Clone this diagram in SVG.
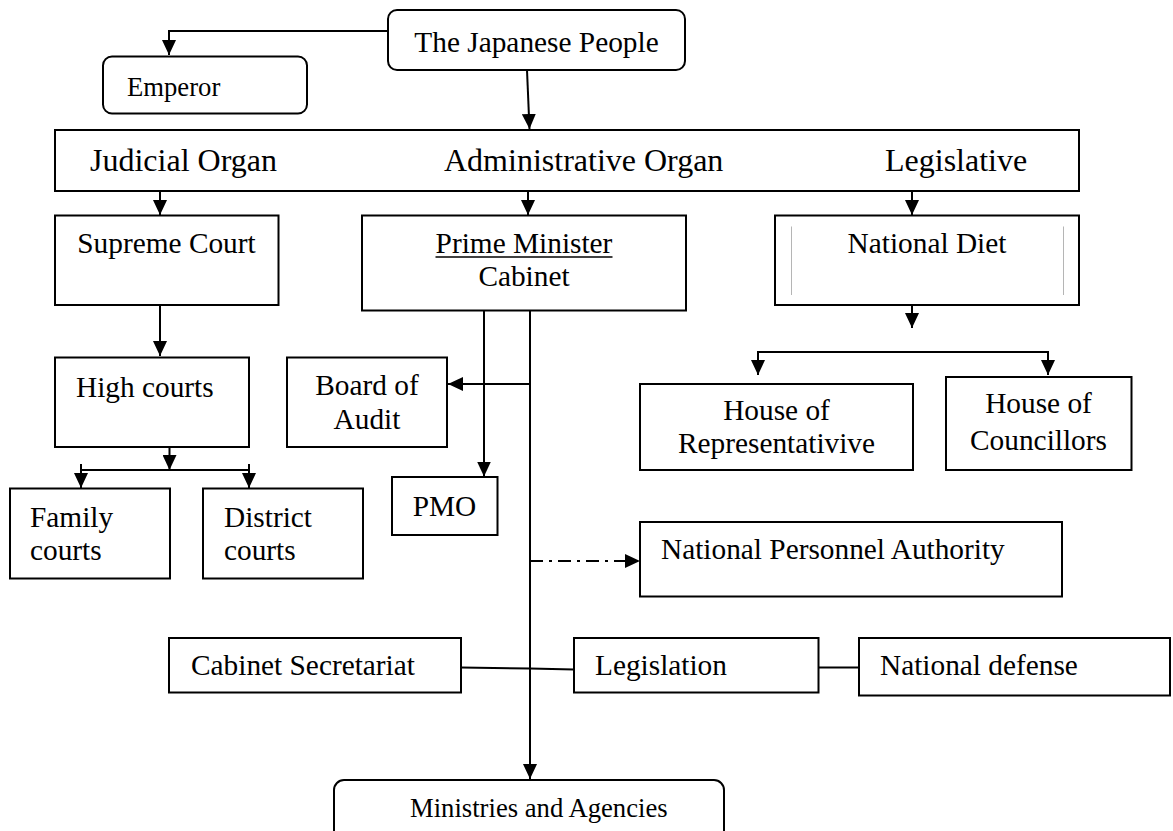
<svg xmlns="http://www.w3.org/2000/svg" width="1173" height="831" viewBox="0 0 1173 831">
<style>
.box{fill:#fff;stroke:#000;stroke-width:2}
.t{font-family:"Liberation Serif","Times New Roman",serif;font-size:29.33px;fill:#000}
.tc{text-anchor:middle}
.big{font-size:32px}
.sm{font-size:26.67px}
.ln{fill:none;stroke:#000;stroke-width:2}
.arr{marker-end:url(#ah)}
</style>
<defs>
<marker id="ah" markerUnits="userSpaceOnUse" markerWidth="16" markerHeight="14" refX="15" refY="7" orient="auto">
<path d="M0,0 L15,7 L0,14 z" fill="#000"/>
</marker>
</defs>
<rect width="1173" height="831" fill="#fff"/>
<g id="connectors">
<polyline class="ln arr" points="388,31 169,31 169,55"/>
<line class="ln arr" x1="527" y1="70" x2="529.5" y2="129"/>
<line class="ln arr" x1="160" y1="191" x2="160" y2="215"/>
<line class="ln arr" x1="528" y1="191" x2="528" y2="215"/>
<line class="ln arr" x1="912" y1="191" x2="912" y2="215"/>
<line class="ln arr" x1="160" y1="305" x2="160" y2="356"/>
<line class="ln arr" x1="169.5" y1="447" x2="169.5" y2="470"/>
<line class="ln" x1="81" y1="470" x2="249" y2="470"/>
<line class="ln arr" x1="81" y1="464" x2="81" y2="488"/>
<line class="ln arr" x1="249" y1="464" x2="249" y2="488"/>
<line class="ln arr" x1="912" y1="305" x2="912" y2="328"/>
<polyline class="ln arr" points="758,352 1048,352 1048,375"/>
<line class="ln arr" x1="758" y1="351" x2="758" y2="375"/>
<line class="ln arr" x1="484" y1="311" x2="484" y2="476.5"/>
<line class="ln arr" x1="530" y1="311" x2="530" y2="779"/>
<line class="ln arr" x1="530" y1="384" x2="448" y2="384"/>
<line class="ln arr" x1="530" y1="561" x2="640" y2="561" stroke-dasharray="13 6 3 6"/>
<polyline class="ln" points="461,667.5 530,668.5 574,669.5"/>
<line class="ln" x1="818.5" y1="667.5" x2="859" y2="667.5"/>
</g>
<g id="japanese-people">
<rect class="box" x="388" y="10" width="297" height="60" rx="9"/>
<text class="t tc" x="536.5" y="52">The Japanese People</text>
</g>
<g id="emperor">
<rect class="box" x="103" y="56.5" width="204" height="57" rx="9"/>
<text class="t sm" x="127" y="96">Emperor</text>
</g>
<g id="organs-bar">
<rect class="box" x="55" y="130" width="1024" height="61"/>
<text class="t big" x="90" y="170.5">Judicial Organ</text>
<text class="t big" x="444" y="170.5">Administrative Organ</text>
<text class="t big" x="885" y="170.5">Legislative</text>
</g>
<g id="supreme-court">
<rect class="box" x="55" y="215.5" width="223.5" height="89.5"/>
<text class="t tc" x="166.5" y="253">Supreme Court</text>
</g>
<g id="prime-minister">
<rect class="box" x="362" y="215.5" width="324" height="95"/>
<text class="t tc" x="524" y="252.5">Prime Minister</text>
<line x1="435.5" y1="257" x2="612.5" y2="257" stroke="#000" stroke-width="1.5"/>
<text class="t tc" x="524" y="286">Cabinet</text>
</g>
<g id="national-diet">
<rect class="box" x="775" y="215.5" width="304" height="89.5"/>
<line x1="791.5" y1="226.5" x2="791.5" y2="295" stroke="#b5b5b5" stroke-width="1"/>
<line x1="1063.5" y1="226.5" x2="1063.5" y2="295" stroke="#b5b5b5" stroke-width="1"/>
<text class="t tc" x="927" y="253">National Diet</text>
</g>
<g id="high-courts">
<rect class="box" x="55" y="357.5" width="194" height="89.5"/>
<text class="t" x="76" y="396.5">High courts</text>
</g>
<g id="board-of-audit">
<rect class="box" x="287" y="357.5" width="160" height="89.5"/>
<text class="t tc" x="367" y="395">Board of</text>
<text class="t tc" x="367" y="428.5">Audit</text>
</g>
<g id="house-of-representatives">
<rect class="box" x="640" y="384" width="273" height="86"/>
<text class="t tc" x="776.5" y="420">House of</text>
<text class="t tc" x="776.5" y="453">Representativive</text>
</g>
<g id="house-of-councillors">
<rect class="box" x="946" y="377" width="185.5" height="93"/>
<text class="t tc" x="1038.5" y="413">House of</text>
<text class="t tc" x="1038.5" y="450">Councillors</text>
</g>
<g id="family-courts">
<rect class="box" x="10" y="488.5" width="160" height="90"/>
<text class="t" x="30" y="526.5">Family</text>
<text class="t" x="30" y="560">courts</text>
</g>
<g id="district-courts">
<rect class="box" x="203" y="488.5" width="160" height="90"/>
<text class="t" x="224" y="526.5">District</text>
<text class="t" x="224" y="560">courts</text>
</g>
<g id="pmo">
<rect class="box" x="392" y="477" width="105.5" height="58"/>
<text class="t tc" x="444.5" y="516">PMO</text>
</g>
<g id="national-personnel-authority">
<rect class="box" x="640" y="522" width="422" height="74.5"/>
<text class="t" x="661" y="559">National Personnel Authority</text>
</g>
<g id="cabinet-secretariat">
<rect class="box" x="169" y="638" width="292" height="54.5"/>
<text class="t" x="191" y="675">Cabinet Secretariat</text>
</g>
<g id="legislation">
<rect class="box" x="574" y="638" width="244.5" height="54.5"/>
<text class="t" x="595" y="675">Legislation</text>
</g>
<g id="national-defense">
<rect class="box" x="859" y="638" width="311" height="57.5"/>
<text class="t" x="880" y="675">National defense</text>
</g>
<g id="ministries-and-agencies">
<rect class="box" x="334" y="780" width="390" height="62" rx="10"/>
<text class="t sm" x="410" y="816.5">Ministries and Agencies</text>
</g>
</svg>
